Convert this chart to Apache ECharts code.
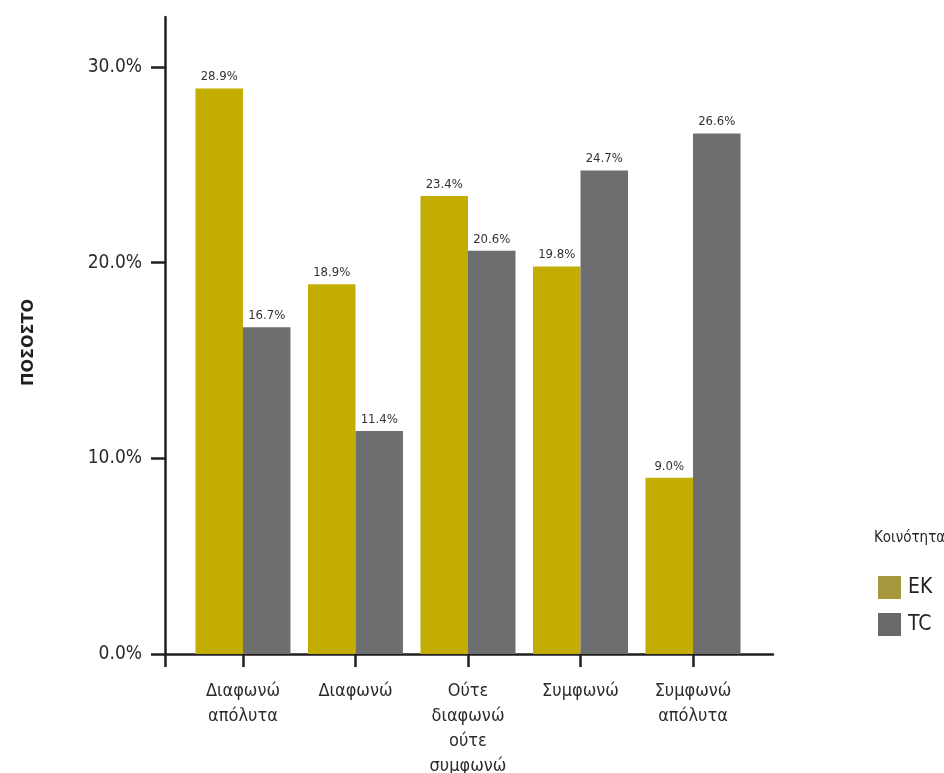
<!DOCTYPE html>
<html>
<head>
<meta charset="utf-8">
<script src="https://cdn.jsdelivr.net/npm/echarts@6/dist/echarts.min.js"></script>
<style>
  html, body { margin: 0; padding: 0; background: #ffffff; }
  #chart { width: 944px; height: 773px; }
</style>
</head>
<body>
<div id="chart"></div>
<script>
// Responses per answer category, percentages by community
const categories = ['Διαφωνώ\nαπόλυτα', 'Διαφωνώ', 'Ούτε\nδιαφωνώ\nούτε\nσυμφωνώ', 'Συμφωνώ', 'Συμφωνώ\nαπόλυτα'];
const seriesNames = ['EK', 'TC'];
const ekValues = [28.9, 18.9, 23.4, 19.8, 9.0];
const tcValues = [16.7, 11.4, 20.6, 24.7, 26.6];
const yTicks = [0, 10, 20, 30];

const FONT = '"Liberation Sans Narrow", "DejaVu Sans Condensed", sans-serif';
const AXIS_COLOR = '#231f20';

// category index positions along a numeric x scale
const xMin = -0.693;
const xMax = 4.711;
const catPositions = categories.map((_, i) => i);

const toPoints = vals => vals.map((v, i) => [catPositions[i], v]);

const chart = echarts.init(document.getElementById('chart'), null, { renderer: 'canvas' });

const labelOpt = {
  show: true,
  position: 'top',
  distance: 5,
  color: '#333333',
  fontFamily: FONT,
  fontSize: 13,
  formatter: p => p.value[1].toFixed(1) + '%'
};

chart.setOption({
  animation: false,
  backgroundColor: '#ffffff',
  title: {
    text: 'Κοινότητα',
    left: 874,
    top: 531,
    padding: 0,
    textStyle: { fontFamily: FONT, fontSize: 15, fontWeight: 'normal', color: '#231f20' }
  },
  legend: {
    orient: 'vertical',
    left: 878,
    top: 576,
    padding: 0,
    itemWidth: 23,
    itemHeight: 23,
    itemGap: 14,
    icon: 'rect',
    textStyle: { fontFamily: FONT, fontSize: 21, color: '#231f20', padding: [0, 0, 0, 2] },
    data: [
      { name: 'EK', itemStyle: { color: '#a6963c' } },
      { name: 'TC', itemStyle: { color: '#69696b' } }
    ]
  },
  grid: { left: 165, right: 171, top: 17, bottom: 119, containLabel: false, outerBoundsMode: 'none' },
  xAxis: {
    type: 'value',
    min: xMin,
    max: xMax,
    splitLine: { show: false },
    axisLine: { show: true, onZero: false, lineStyle: { color: AXIS_COLOR, width: 2.5 } },
    axisTick: {
      show: true,
      length: 13,
      customValues: [xMin].concat(catPositions),
      lineStyle: { color: AXIS_COLOR, width: 2.5 }
    },
    axisLabel: {
      customValues: catPositions,
      margin: 25,
      fontFamily: FONT,
      fontSize: 18,
      lineHeight: 25,
      color: '#2b2b2b',
      align: 'center',
      verticalAlign: 'top',
      formatter: v => categories[Math.round(v)]
    }
  },
  yAxis: {
    type: 'value',
    min: 0,
    max: 32.55,
    name: 'ΠΟΣΟΣΤΟ',
    nameLocation: 'middle',
    nameGap: 128,
    nameTextStyle: {
      fontFamily: '"DejaVu Sans", sans-serif', fontSize: 16, fontWeight: 'bold', color: '#231f20',
      padding: [0, 14, 0, 0]
    },
    splitLine: { show: false },
    axisLine: { show: true, onZero: false, lineStyle: { color: AXIS_COLOR, width: 2.5 } },
    axisTick: {
      show: true,
      length: 14,
      customValues: yTicks,
      lineStyle: { color: AXIS_COLOR, width: 2.5 }
    },
    axisLabel: {
      customValues: yTicks,
      margin: 23,
      fontFamily: FONT,
      fontSize: 19,
      color: '#2b2b2b',
      formatter: v => v.toFixed(1) + '%'
    }
  },
  series: [
    {
      name: seriesNames[0],
      type: 'bar',
      barWidth: 47.5,
      barGap: '0%',
      itemStyle: { color: '#c2ad00' },
      label: labelOpt,
      data: toPoints(ekValues)
    },
    {
      name: seriesNames[1],
      type: 'bar',
      barWidth: 47.5,
      barGap: '0%',
      itemStyle: { color: '#6d6e70' },
      label: labelOpt,
      data: toPoints(tcValues)
    }
  ]
});
</script>
</body>
</html>
